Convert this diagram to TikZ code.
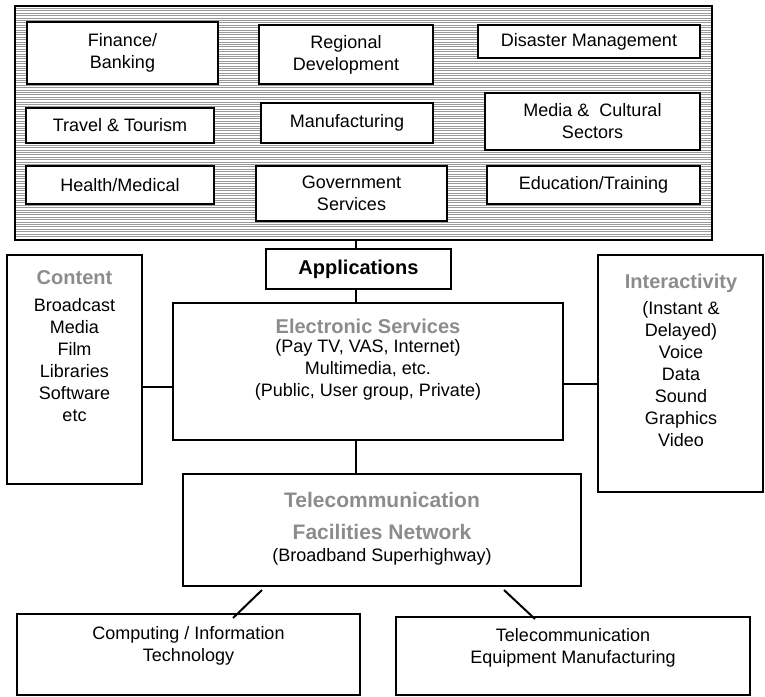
\documentclass[tikz,border=0pt]{standalone}
\usepackage{fontspec}
\setmainfont{Liberation Sans}
\definecolor{titlegray}{HTML}{8C8C8C}
\definecolor{hatchgray}{HTML}{9A9A9A}
\begin{document}
\begin{tikzpicture}[x=1pt,y=-1pt,
  box/.style={draw, line width=1.3pt, inner sep=0pt},
  txt/.style={align=center, inner sep=0pt, font=\fontsize{18}{22}\selectfont},
  ttl/.style={inner sep=0pt, text=titlegray, font=\fontsize{20}{24}\selectfont\bfseries},
  conn/.style={line width=2pt},
  hatch/.style={hatchgray, line width=0.9pt}]
\useasboundingbox (0,0) rectangle (765,696);
% hatched application area
\foreach \yy in {8.4,10.8,...,238.5} \draw[hatch] (16,\yy) -- (711,\yy);
\node[box, minimum width=697pt, minimum height=234pt] (area) at (363.5,123) {};
% application boxes
\node[box, fill=white, txt, minimum width=191pt, minimum height=62pt] (fin) at (122.5,53) {Finance/\\Banking};
\node[box, fill=white, txt, minimum width=174pt, minimum height=59pt] (reg) at (346,54.5) {Regional\\Development};
\node[box, fill=white, txt, minimum width=222pt, minimum height=33pt] (dis) at (589,41.5) {Disaster Management};
\node[box, fill=white, txt, minimum width=188pt, minimum height=35pt] (tra) at (120,125.5) {Travel \& Tourism};
\node[box, fill=white, txt, minimum width=172pt, minimum height=40pt] (man) at (347,123) {Manufacturing};
\node[box, fill=white, txt, minimum width=215pt, minimum height=57pt] (med) at (592.5,121.5) {Media \&\ \ Cultural\\Sectors};
\node[box, fill=white, txt, minimum width=188pt, minimum height=38pt] (hea) at (120,185) {Health/Medical};
\node[box, fill=white, txt, minimum width=191pt, minimum height=55pt] (gov) at (351.5,193.5) {Government\\Services};
\node[box, fill=white, txt, minimum width=213pt, minimum height=38pt] (edu) at (593.5,185) {Education/Training};
% middle
\node[box, minimum width=185pt, minimum height=40pt, inner sep=0pt, font=\fontsize{20}{24}\selectfont\bfseries] (apps) at (358.5,269) {Applications};
\node[box, minimum width=390pt, minimum height=137pt] (elec) at (368,371.5) {};
\node[box, minimum width=135pt, minimum height=229pt] (cont) at (74.5,369.5) {};
\node[box, minimum width=165pt, minimum height=237pt] (inter) at (680.5,373.5) {};
\node[box, minimum width=398pt, minimum height=112pt] (tel) at (382,530) {};
\node[box, minimum width=343pt, minimum height=81pt] (comp) at (188.5,654.5) {};
\node[box, minimum width=354pt, minimum height=78pt] (equip) at (573,656) {};
% texts
\node[ttl] (contT) at (74.5,278) {Content};
\node[txt] (contL) at (74.5,360) {Broadcast\\Media\\Film\\Libraries\\Software\\etc};
\node[ttl] (elecT) at (368,326) {Electronic Services};
\node[txt] (elecL) at (368,370) {(Pay TV, VAS, Internet)\\Multimedia, etc.\\(Public, User group, Private)};
\node[ttl] (interT) at (681,283) {Interactivity};
\node[txt] (interL) at (681,374) {(Instant \&\\Delayed)\\Voice\\Data\\Sound\\Graphics\\Video};
\node[ttl, font=\fontsize{21}{24}\selectfont\bfseries] (telT1) at (382,500) {Telecommunication};
\node[ttl, font=\fontsize{21}{24}\selectfont\bfseries] (telT2) at (382,532) {Facilities Network};
\node[txt] (telL) at (382,557) {(Broadband Superhighway)};
\node[txt] (compL) at (188.5,646) {Computing / Information\\Technology};
\node[txt] (equipL) at (573,647.5) {Telecommunication\\Equipment Manufacturing};
% connectors
\coordinate (vx) at (356,0);
\coordinate (hy1) at (0,387);
\coordinate (hy2) at (0,384);
\coordinate (d1a) at (262,590);
\coordinate (d1b) at (233,618);
\coordinate (d2a) at (504,590);
\coordinate (d2b) at (535,619);
\draw[conn] (vx |- area.south) -- (vx |- apps.north);
\draw[conn] (vx |- apps.south) -- (vx |- elec.north);
\draw[conn] (vx |- elec.south) -- (vx |- tel.north);
\draw[conn] (cont.east |- hy1) -- (elec.west |- hy1);
\draw[conn] (elec.east |- hy2) -- (inter.west |- hy2);
\draw[conn] (d1a) -- (d1b);
\draw[conn] (d2a) -- (d2b);
\end{tikzpicture}
\end{document}
